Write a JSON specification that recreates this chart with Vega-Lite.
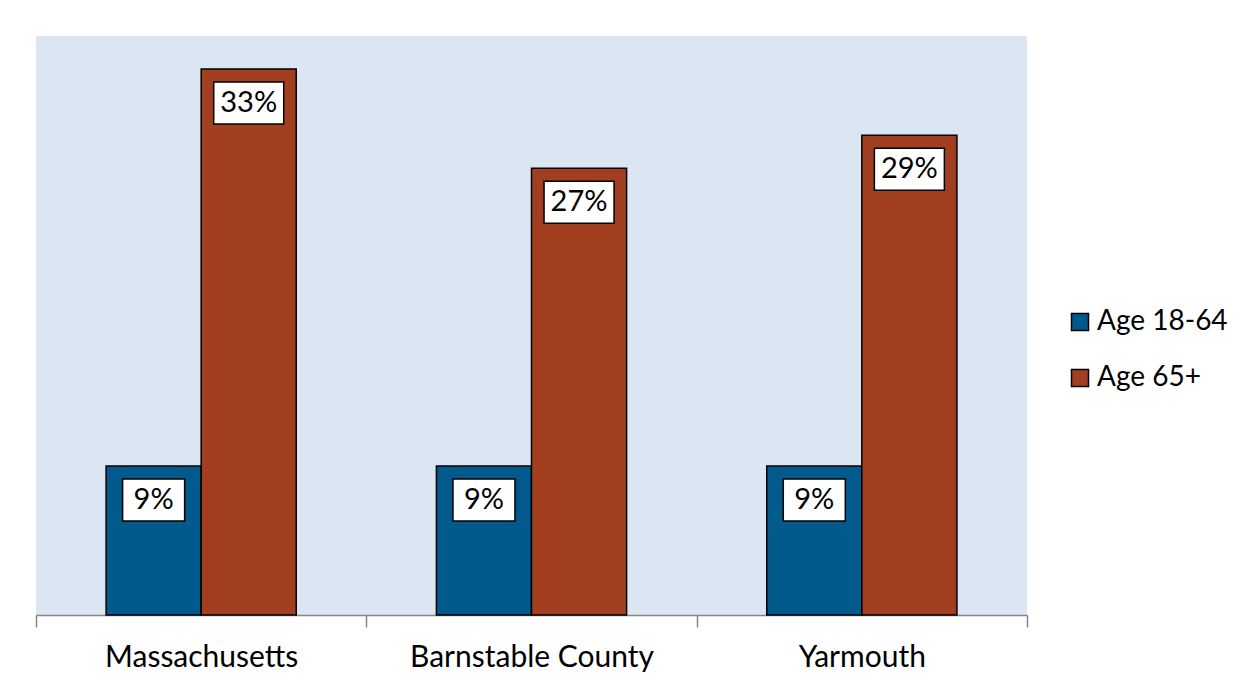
{
  "$schema": "https://vega.github.io/schema/vega-lite/v6.json",
  "width": 991,
  "height": 579,
  "autosize": {"type": "none"},
  "padding": {"left": 36, "top": 36, "right": 223, "bottom": 72},
  "background": "white",
  "config": {
    "view": {"fill": "#DCE6F2", "stroke": null},
    "font": "Lato"
  },
  "data": {
    "values": [
      {"region": "Massachusetts", "group": "Age 18-64", "value": 9, "label": "9%"},
      {"region": "Massachusetts", "group": "Age 65+", "value": 33, "label": "33%"},
      {"region": "Barnstable County", "group": "Age 18-64", "value": 9, "label": "9%"},
      {"region": "Barnstable County", "group": "Age 65+", "value": 27, "label": "27%"},
      {"region": "Yarmouth", "group": "Age 18-64", "value": 9, "label": "9%"},
      {"region": "Yarmouth", "group": "Age 65+", "value": 29, "label": "29%"}
    ]
  },
  "encoding": {
    "x": {
      "field": "region",
      "type": "nominal",
      "sort": ["Massachusetts", "Barnstable County", "Yarmouth"],
      "scale": {"paddingInner": 0, "paddingOuter": 0},
      "axis": {
        "title": null,
        "labelAngle": 0,
        "labelFontSize": 30,
        "labelColor": "black",
        "labelLimit": 500,
        "labelPadding": 15,
        "domainColor": "#868686",
        "domainWidth": 1.5,
        "tickColor": "#868686",
        "tickWidth": 1.5,
        "tickSize": 12,
        "tickBand": "extent"
      }
    },
    "xOffset": {
      "field": "group",
      "type": "nominal",
      "scale": {"paddingInner": 0, "paddingOuter": 0.737}
    },
    "y": {
      "field": "value",
      "type": "quantitative",
      "scale": {"domain": [0, 35], "nice": false},
      "axis": null
    }
  },
  "layer": [
    {
      "mark": {"type": "bar", "stroke": "black", "strokeWidth": 1.5},
      "encoding": {
        "color": {
          "field": "group",
          "type": "nominal",
          "scale": {"domain": ["Age 18-64", "Age 65+"], "range": ["#02598C", "#A23F20"]},
          "legend": {
            "title": null,
            "orient": "none",
            "legendX": 1030,
            "legendY": 272,
            "symbolType": "square",
            "symbolSize": 289,
            "symbolStrokeColor": "black",
            "symbolStrokeWidth": 1.5,
            "symbolOpacity": 1,
            "labelFontSize": 28,
            "labelColor": "black",
            "labelLimit": 300,
            "labelOffset": 3,
            "rowPadding": 28
          }
        }
      }
    },
    {
      "mark": {"type": "point", "filled": true, "fill": "white", "stroke": "black", "strokeWidth": 1.5, "opacity": 1, "size": 4, "yOffset": 34},
      "encoding": {
        "shape": {
          "condition": {"test": "datum.value < 10", "value": "M-31,-21H31V21H-31Z"},
          "value": "M-35,-21H35V21H-35Z"
        }
      }
    },
    {
      "mark": {"type": "text", "fontSize": 29, "color": "black", "baseline": "middle", "align": "center", "yOffset": 34},
      "encoding": {
        "text": {"field": "label"}
      }
    }
  ]
}
